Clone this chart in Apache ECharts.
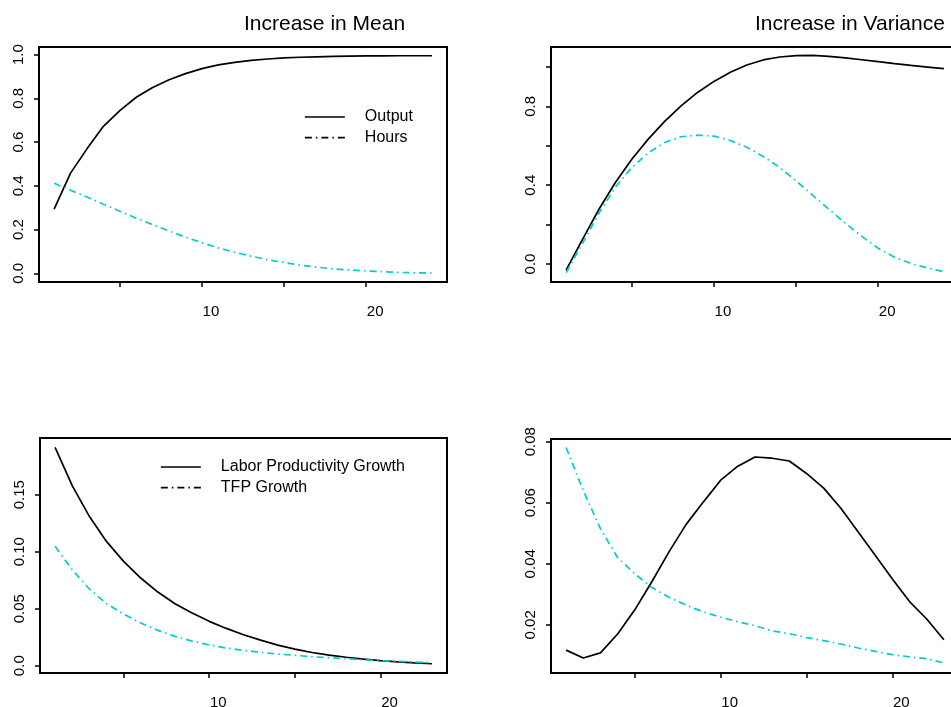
<!DOCTYPE html>
<html>
<head>
<meta charset="utf-8">
<script src="https://cdn.jsdelivr.net/npm/echarts@6/dist/echarts.min.js"></script>
<style>
html,body{margin:0;padding:0;background:#fff;}
#c{width:951px;height:707px;}
</style>
</head>
<body>
<div id="c"></div>
<script>
// ---- data ----
const xMean = [1,2,3,4,5,6,7,8,9,10,11,12,13,14,15,16,17,18,19,20,21,22,23,24];
const meanOutput = [0.293,0.458,0.569,0.672,0.744,0.805,0.850,0.885,0.913,0.936,0.953,0.965,0.974,0.980,0.985,0.988,0.990,0.992,0.993,0.994,0.994,0.995,0.995,0.995];
const meanHours  = [0.412,0.380,0.349,0.316,0.284,0.252,0.222,0.193,0.165,0.140,0.116,0.096,0.078,0.062,0.049,0.037,0.028,0.020,0.015,0.011,0.007,0.004,0.002,0.001];
const varOutput  = [-0.031,0.125,0.278,0.414,0.532,0.634,0.724,0.803,0.871,0.927,0.973,1.010,1.036,1.051,1.058,1.059,1.054,1.046,1.037,1.027,1.017,1.008,1.000,0.992];
const varHours   = [-0.044,0.105,0.258,0.390,0.490,0.563,0.617,0.646,0.654,0.649,0.627,0.593,0.546,0.490,0.422,0.350,0.278,0.207,0.140,0.080,0.034,0.002,-0.020,-0.039];

const xGrowth = [1,2,3,4,5,6,7,8,9,10,11,12,13,14,15,16,17,18,19,20,21,22,23];
const meanLP  = [0.1915,0.158,0.131,0.109,0.0915,0.0769,0.0646,0.0544,0.0462,0.0389,0.0327,0.0272,0.0224,0.0180,0.0145,0.0116,0.0093,0.0074,0.0058,0.0045,0.0034,0.0025,0.0017];
const meanTFP = [0.1047,0.0842,0.0673,0.0544,0.0453,0.0374,0.0310,0.0257,0.0216,0.0181,0.0155,0.0135,0.0117,0.0102,0.0091,0.0079,0.0070,0.0061,0.0053,0.0044,0.0038,0.0032,0.0026];
const varLP   = [0.0117,0.0091,0.0108,0.0170,0.0249,0.0342,0.0440,0.0530,0.0603,0.0674,0.0720,0.0750,0.0746,0.0737,0.0696,0.0648,0.0582,0.0505,0.0428,0.0350,0.0276,0.0219,0.0151];
const varTFP  = [0.0781,0.0640,0.0515,0.0420,0.0367,0.0322,0.0290,0.0264,0.0242,0.0225,0.0210,0.0197,0.0180,0.0171,0.0158,0.0148,0.0137,0.0124,0.0113,0.0102,0.0095,0.0089,0.0075];

const xTicks = [5,10,15,20];
const xTickLabels = [10,20];
const yTicks1 = [0,0.2,0.4,0.6,0.8,1.0];
const yLabels1 = ['0.0','0.2','0.4','0.6','0.8','1.0'];
const yTicks2 = [0,0.2,0.4,0.6,0.8,1.0];
const yLabelVals2 = [0,0.4,0.8];
const yLabels2 = ['0.0','0.4','0.8'];
const yTicks3 = [0,0.05,0.10,0.15];
const yLabels3 = ['0.0','0.05','0.10','0.15'];
const yTicks4 = [0.02,0.04,0.06,0.08];
const yLabels4 = ['0.02','0.04','0.06','0.08'];

const titles = ['Increase in Mean','Increase in Variance'];
const legend1 = ['Output','Hours'];
const legend2 = ['Labor Productivity Growth','TFP Growth'];

// ---- styling ----
const FONT = '"Liberation Sans", Arial, Helvetica, sans-serif';
const CYAN = '#00CDCD';
const DASHDOT = [7,4,1.5,4];
const LW = 1.7;

function pairs(xs, ys){ return xs.map((x,i)=>[x, ys[i]]); }
function labelMap(vals, labs){ return function(v){ for(let i=0;i<vals.length;i++){ if(Math.abs(vals[i]-v)<1e-9) return labs[i]; } return ''; }; }

function xAxis(g, min, max){
  return {
    type:'value', gridIndex:g, min:min, max:max,
    splitLine:{show:false}, axisLine:{show:false, onZero:false},
    axisTick:{show:true, length:5, customValues:xTicks, lineStyle:{color:'#000', width:1.5}},
    axisLabel:{customValues:xTickLabels, margin:22, color:'#000', fontSize:15, fontFamily:FONT, padding:[0,0,0,18]}
  };
}
function yAxis(g, min, max, ticks, labelVals, labels){
  return {
    type:'value', gridIndex:g, min:min, max:max,
    splitLine:{show:false}, axisLine:{show:false, onZero:false},
    axisTick:{show:true, length:5, customValues:ticks, lineStyle:{color:'#000', width:1.5}},
    axisLabel:{customValues:labelVals, rotate:90, margin:13, color:'#000', fontSize:15, fontFamily:FONT,
      formatter: labelMap(labelVals, labels)}
  };
}
function line(name, g, xs, ys, color, dash){
  return {
    type:'line', name:name, xAxisIndex:g, yAxisIndex:g, data:pairs(xs, ys),
    symbol:'none', smooth:false, silent:true,
    lineStyle:{color:color, width:LW, type:dash||'solid', cap:'butt'}
  };
}
const gridBase = {show:true, borderColor:'#000', borderWidth:2, backgroundColor:'transparent', containLabel:false, outerBoundsMode:'none'};
const noSymbol = {color:'rgba(0,0,0,0)', borderColor:'rgba(0,0,0,0)', borderWidth:0};

const option = {
  animation:false,
  backgroundColor:'#fff',
  title:[
    {text:titles[0], left:244, top:14, padding:0, textStyle:{fontSize:21, fontWeight:'normal', color:'#000', fontFamily:FONT}},
    {text:titles[1], left:755, top:14, padding:0, textStyle:{fontSize:21, fontWeight:'normal', color:'#000', fontFamily:FONT}}
  ],
  legend:[
    {orient:'vertical', left:304, top:109, padding:0, itemWidth:40, itemHeight:14, itemGap:4.7, selectedMode:false,
     textStyle:{fontSize:16, color:'#000', fontFamily:FONT, padding:[4,0,0,15]},
     data:[
       {name:legend1[0], itemStyle:noSymbol, lineStyle:{color:'#000', width:LW, type:'solid'}},
       {name:legend1[1], itemStyle:noSymbol, lineStyle:{color:'#000', width:LW, type:DASHDOT}}
     ]},
    {orient:'vertical', left:160, top:459, padding:0, itemWidth:40, itemHeight:14, itemGap:4.7, selectedMode:false,
     textStyle:{fontSize:16, color:'#000', fontFamily:FONT, padding:[4,0,0,15]},
     data:[
       {name:legend2[0], itemStyle:noSymbol, lineStyle:{color:'#000', width:LW, type:'solid'}},
       {name:legend2[1], itemStyle:noSymbol, lineStyle:{color:'#000', width:LW, type:DASHDOT}}
     ]}
  ],
  grid:[
    Object.assign({left:39, top:47, width:408, height:235}, gridBase),
    Object.assign({left:551, top:47, width:408, height:235}, gridBase),
    Object.assign({left:40, top:438, width:407, height:235}, gridBase),
    Object.assign({left:551, top:439, width:408, height:234}, gridBase)
  ],
  xAxis:[
    xAxis(0, 0.08, 24.92),
    xAxis(1, 0.08, 24.92),
    xAxis(2, 0.12, 23.88),
    xAxis(3, 0.12, 23.88)
  ],
  yAxis:[
    yAxis(0, -0.04, 1.035, yTicks1, yTicks1, yLabels1),
    yAxis(1, -0.0915, 1.1017, yTicks2, yLabelVals2, yLabels2),
    yAxis(2, -0.0064, 0.1997, yTicks3, yTicks3, yLabels3),
    yAxis(3, 0.0042, 0.0809, yTicks4, yTicks4, yLabels4)
  ],
  series:[
    line(legend1[0], 0, xMean, meanOutput, '#000'),
    line(legend1[1], 0, xMean, meanHours, CYAN, DASHDOT),
    line(legend1[0], 1, xMean, varOutput, '#000'),
    line(legend1[1], 1, xMean, varHours, CYAN, DASHDOT),
    line(legend2[0], 2, xGrowth, meanLP, '#000'),
    line(legend2[1], 2, xGrowth, meanTFP, CYAN, DASHDOT),
    line(legend2[0], 3, xGrowth, varLP, '#000'),
    line(legend2[1], 3, xGrowth, varTFP, CYAN, DASHDOT)
  ]
};
const chart = echarts.init(document.getElementById('c'), null, {renderer:'canvas'});
chart.setOption(option);
</script>
</body>
</html>
